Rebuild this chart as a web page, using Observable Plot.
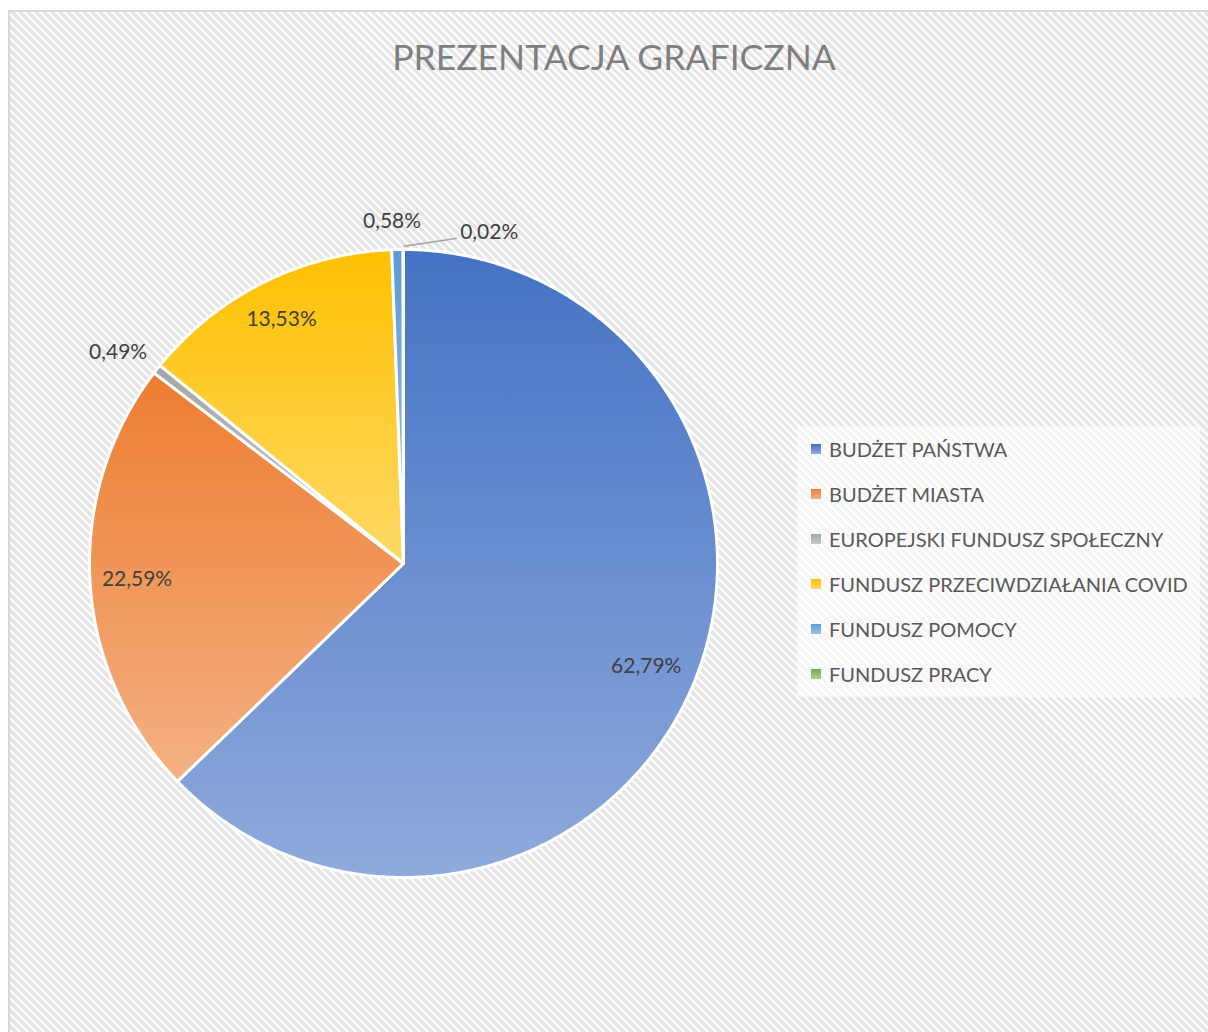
<!DOCTYPE html>
<html><head><meta charset="utf-8">
<script src="https://cdn.jsdelivr.net/npm/d3@7"></script>
<script src="https://cdn.jsdelivr.net/npm/@observablehq/plot@0.6"></script>
<style>
html,body{margin:0;padding:0;background:#fff;overflow:hidden}
#page{position:relative;width:1208px;height:1032px;overflow:hidden}
#frame{position:absolute;left:8px;top:10px;width:1220px;height:1040px;border:2px solid #d9d9d9;box-sizing:border-box;
  background:repeating-linear-gradient(45deg,#ffffff 0px,#ffffff 2.3px,#e5e5e5 2.3px,#e5e5e5 5.66px)}
#title{position:absolute;left:0;width:1228px;top:35px;text-align:center;font:400 35.5px Lato;color:#7f7f7f;line-height:44px;white-space:nowrap}
#pie{position:absolute;left:0;top:0}
#legend{position:absolute;left:797px;top:426px;width:403px;height:271px;background:rgba(255,255,255,0.62);box-sizing:border-box;padding-left:14px}
#legend .lg-swatches{margin:0 !important;font-family:Lato !important;font-size:20px !important;color:#595959 !important}
#legend .lg-swatch{height:45px !important;padding:0 !important;margin:0 !important;display:flex;align-items:center}
#legend .lg-swatch svg{margin-right:8px !important}
</style></head>
<body><div id="page"><div id="frame"></div><div id="title">PREZENTACJA GRAFICZNA</div><div id="pie"></div><div id="legend"></div></div>
<script>
const names = ["BUDŻET PAŃSTWA","BUDŻET MIASTA","EUROPEJSKI FUNDUSZ SPOŁECZNY","FUNDUSZ PRZECIWDZIAŁANIA COVID","FUNDUSZ POMOCY","FUNDUSZ PRACY"];
const shares = [62.79, 22.59, 0.49, 13.53, 0.58, 0.02];
const topColors = ["#4472C4","#ED7D31","#A5A5A5","#FFC000","#5B9BD5","#70AD47"];
const bottomColors = ["#8FAADC","#F4B183","#C9C9C9","#FFD966","#9DC3E6","#A9D18E"];
// label layout: radial factor (fraction of radius) and angular nudge (degrees) for each slice's label
const labelRadius = [0.84, 0.85, 1.13, 0.87, 1.09, 1.05];
const labelTurn = [0, 0, -1.8, 0, -0.8, 9.4];

const pie = d3.pie().sort(null).value(d => d)(shares);
const slices = pie.map((p, i) => {
  const n = Math.max(2, Math.ceil((p.endAngle - p.startAngle) / (2 * Math.PI) * 720));
  const pts = [{x: 0, y: 0, name: names[i]}];
  for (let k = 0; k <= n; k++) {
    const a = p.startAngle + (p.endAngle - p.startAngle) * k / n;
    pts.push({x: Math.sin(a), y: Math.cos(a), name: names[i]});
  }
  return pts;
});
const fmt = v => v.toFixed(2).replace(".", ",") + "%";
const labels = pie.map((p, i) => {
  const a = (p.startAngle + p.endAngle) / 2 + labelTurn[i] * Math.PI / 180;
  const r = labelRadius[i];
  return {x: r * Math.sin(a), y: r * Math.cos(a), text: fmt(shares[i]), i};
});
const lastMid = (pie[5].startAngle + pie[5].endAngle) / 2;
const leader = [{x1: 1.01 * Math.sin(lastMid), y1: 1.01 * Math.cos(lastMid), x2: labels[5].x, y2: labels[5].y}];

const svg = Plot.plot({
  width: 1208, height: 1032, margin: 0,
  style: {background: "transparent", overflow: "visible", fontFamily: "Lato"},
  x: {domain: [-1, 1], range: [89, 717], axis: null},
  y: {domain: [-1, 1], range: [877, 249], axis: null},
  marks: [
    ...slices.map((pts, i) => Plot.line(pts, {x: "x", y: "y", curve: "linear-closed", fill: `url(#grad${i})`, stroke: "white", strokeWidth: 3, strokeLinejoin: "miter"})),
    Plot.link(leader, {x1: "x1", y1: "y1", x2: "x2", y2: "y2", stroke: "#a6a6a6", strokeWidth: 1.6}),
    Plot.text(labels.filter(d => d.i !== 5), {x: "x", y: "y", text: "text", fontSize: 21, fill: "#404040"}),
    Plot.text(labels.filter(d => d.i === 5), {x: "x", y: "y", text: "text", fontSize: 21, fill: "#404040", textAnchor: "start", dx: 3, dy: -6})
  ]
});
const defs = d3.select(svg).insert("defs", ":first-child");
topColors.forEach((c, i) => {
  const g = defs.append("linearGradient").attr("id", "grad" + i).attr("x1", 0).attr("y1", 0).attr("x2", 0).attr("y2", 1);
  g.append("stop").attr("offset", "0%").attr("stop-color", c);
  g.append("stop").attr("offset", "100%").attr("stop-color", bottomColors[i]);
});
document.getElementById("pie").appendChild(svg);

const legend = Plot.legend({
  color: {type: "ordinal", domain: names, range: names.map((_, i) => `url(#grad${i})`)},
  legend: "swatches", columns: 1, swatchSize: 10, className: "lg"
});
document.getElementById("legend").appendChild(legend);
</script></body></html>
